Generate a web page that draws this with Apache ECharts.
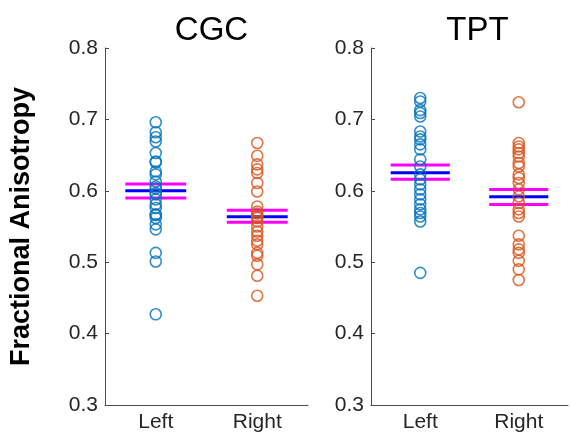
<!DOCTYPE html>
<html><head><meta charset="utf-8">
<script src="https://cdn.jsdelivr.net/npm/echarts@6/dist/echarts.min.js"></script>
<style>html,body{margin:0;padding:0;background:#fff}#c{width:571px;height:433px}</style>
</head><body><div id="c"></div>
<script>
const panels = ["CGC", "TPT"];
const categories = ["Left", "Right"];
const yTicks = [0.3, 0.4, 0.5, 0.6, 0.7, 0.8];

const cgcLeft = [0.696, 0.682, 0.675, 0.669, 0.653, 0.641, 0.640, 0.627, 0.623, 0.613, 0.606, 0.603, 0.597, 0.595, 0.588, 0.581, 0.576, 0.567, 0.566, 0.562, 0.553, 0.546, 0.513, 0.501, 0.427];
const cgcRight = [0.667, 0.649, 0.637, 0.630, 0.625, 0.611, 0.599, 0.578, 0.571, 0.568, 0.564, 0.562, 0.557, 0.550, 0.543, 0.537, 0.530, 0.525, 0.513, 0.509, 0.497, 0.481, 0.453];
const tptLeft = [0.730, 0.725, 0.713, 0.709, 0.704, 0.683, 0.676, 0.672, 0.665, 0.658, 0.644, 0.634, 0.623, 0.616, 0.609, 0.602, 0.595, 0.588, 0.581, 0.574, 0.569, 0.564, 0.557, 0.485];
const tptRight = [0.724, 0.667, 0.662, 0.658, 0.653, 0.648, 0.639, 0.634, 0.623, 0.618, 0.611, 0.602, 0.592, 0.583, 0.574, 0.569, 0.564, 0.537, 0.525, 0.518, 0.513, 0.502, 0.490, 0.475];

// mean and mean ± SEM per group: [Left, Right]
const cgcMean = [0.600, 0.5635];
const cgcLow  = [0.590, 0.556];
const cgcHigh = [0.6096, 0.5728];
const tptMean = [0.6254, 0.5915];
const tptLow  = [0.6161, 0.5807];
const tptHigh = [0.6362, 0.6017];

const blue = '#0072BD', orange = '#D95319';
const halfWidth = 0.3;

const chart = echarts.init(document.getElementById('c'));
const font = 'Liberation Sans, Arial, Helvetica, sans-serif';
const grids = [
  {left: 105, top: 48, width: 203, height: 358},
  {left: 371, top: 48, width: 203, height: 358}
];
const xAxes = [0, 1].map(i => ({
  gridIndex: i, type: 'value', min: 0.5, max: 2.5, interval: 0.5,
  axisLine: {show: true, lineStyle: {color: '#4a4a4a', width: 1}},
  axisTick: {show: false}, splitLine: {show: false},
  axisLabel: {
    fontFamily: font, fontSize: 21, color: '#262626', margin: 7,
    showMinLabel: true, showMaxLabel: true,
    formatter: v => (Math.abs(v - 1) < 1e-6 ? categories[0] : (Math.abs(v - 2) < 1e-6 ? categories[1] : ''))
  }
}));
const yAxes = [0, 1].map(i => ({
  gridIndex: i, type: 'value', min: yTicks[0], max: yTicks[yTicks.length - 1], interval: 0.1,
  name: i === 0 ? 'Fractional Anisotropy' : '',
  nameLocation: 'middle', nameGap: 70,
  nameTextStyle: {fontFamily: font, fontSize: 27, fontWeight: 'bold', color: '#000'},
  axisLine: {show: true, lineStyle: {color: '#4a4a4a', width: 1}},
  axisTick: {show: true, inside: true, length: 4, lineStyle: {color: '#4a4a4a'}},
  splitLine: {show: false},
  axisLabel: {fontFamily: font, fontSize: 21, color: '#262626', margin: 7, formatter: v => v.toFixed(1)}
}));

const groups = [
  {p: 0, data: [cgcLeft, cgcRight], mean: cgcMean, lo: cgcLow, hi: cgcHigh},
  {p: 1, data: [tptLeft, tptRight], mean: tptMean, lo: tptLow, hi: tptHigh}
];
const series = [];
groups.forEach(g => {
  [0, 1].forEach(k => {
    const x = k + 1;
    [[g.hi[k], '#FF00FF'], [g.lo[k], '#FF00FF'], [g.mean[k], '#0000FF']].forEach(([v, c]) => {
      series.push({
        type: 'line', xAxisIndex: g.p, yAxisIndex: g.p, symbol: 'none', z: 2,
        lineStyle: {color: c, width: 3}, silent: true,
        data: [[x - halfWidth, v], [x + halfWidth, v]]
      });
    });
    series.push({
      type: 'scatter', xAxisIndex: g.p, yAxisIndex: g.p, symbol: 'circle', symbolSize: 11, z: 3,
      itemStyle: {color: 'rgba(0,0,0,0)', borderColor: k === 0 ? blue : orange, borderWidth: 1.6},
      data: g.data[k].map(v => [x, v])
    });
  });
});

chart.setOption({
  animation: false,
  title: panels.map((t, i) => ({
    text: t, left: (grids[i].left + grids[i].width / 2), top: 9, textAlign: 'center',
    textStyle: {fontFamily: font, fontSize: 33, fontWeight: 'normal', color: '#000'}
  })),
  grid: grids, xAxis: xAxes, yAxis: yAxes, series
});
</script></body></html>
